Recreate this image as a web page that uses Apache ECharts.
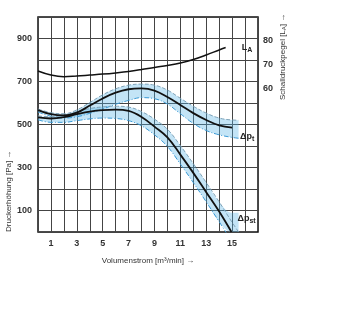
<!DOCTYPE html>
<html><head><meta charset="utf-8">
<script src="https://cdn.jsdelivr.net/npm/echarts@6/dist/echarts.min.js"></script>
<style>html,body{margin:0;padding:0;background:#fff}#c{width:340px;height:331px}</style>
</head><body><div id="c"></div>
<script>
// ---- data ----
const xTickLabels = [1,3,5,7,9,11,13,15];
const leftTickLabels = [100,300,500,700,900];
const rightTickLabels = [60,70,80];

const laX = [0,1,2,3,4,5,6,7,8,9,10,11,12,13,14,14.5];
const laVals = [67.4,65.7,65.0,65.3,65.7,66.1,66.6,67.2,68.0,68.9,69.7,70.7,72.2,74.1,76.2,77.2];

const ptX = [0,1,2,3,4,5,6,7,8,9,10,11,12,13,14,15];
const ptVals = [567,548,542,555,588,621,648,664,668,658,628,591,553,521,496,485];
const ptBandX = [0,1,2,3,4,5,6,7,8,9,10,11,12,13,14,15,15.5];
const ptUpper = [572,555,550,568,602,638,666,683,688,683,660,622,585,553,530,521,520];
const ptLower = [558,538,530,536,552,572,594,612,625,620,595,550,505,472,452,440,436];

const pstX = [0,1,2,3,4,5,6,7,8,9,10,11,12,13,14,14.95];
const pstVals = [533,528,534,548,560,567,569,563,535,490,440,360,275,185,95,0];
const pstBandX = [0,1,2,3,4,5,6,7,8,9,10,11,12,13,14,15,15.5];
const pstUpper = [540,536,543,560,574,582,585,581,560,525,478,402,318,230,140,45,0];
const pstLower = [522,510,510,518,526,530,528,518,494,452,398,316,230,140,48,-45,-90];

// ---- helpers ----
const pairs = (xs, ys) => xs.map((x, i) => [x, ys[i]]);
// [y, x] order so the stacked dimension is the value (y) dimension
const yxPairs = (xs, ys) => xs.map((x, i) => [ys[i], x]);
const BAND = 'rgba(90,180,230,0.36)';
const BLACK = '#111';
const FONT = '"Liberation Sans", Arial, sans-serif';

function bandSeries(name, xs, up, lo) {
  const diff = up.map((u, i) => u - lo[i]);
  return [
    { type: 'line', name: name + '_base', data: yxPairs(xs, lo), encode: { x: 1, y: 0 }, stack: name, smooth: 0.4,
      symbol: 'none', lineStyle: { width: 0, opacity: 0 }, silent: true, z: 1 },
    { type: 'line', name: name + '_fill', data: yxPairs(xs, diff), encode: { x: 1, y: 0 }, stack: name, smooth: 0.4,
      symbol: 'none', lineStyle: { width: 0, opacity: 0 }, areaStyle: { color: BAND, opacity: 1 }, silent: true, z: 1 },
    { type: 'line', name: name + '_up', data: pairs(xs, up), smooth: 0.4, symbol: 'none',
      lineStyle: { color: '#7fa3b8', width: 1, type: [4, 2] }, z: 2 },
    { type: 'line', name: name + '_lo', data: pairs(xs, lo), smooth: 0.4, symbol: 'none',
      lineStyle: { color: '#3a9ad6', width: 1, type: [5, 2, 1, 2] }, z: 2 }
  ];
}

const subRich = {
  m: { fontSize: 9, fontWeight: 'bold', color: '#222', fontFamily: FONT },
  s: { fontSize: 7, fontWeight: 'bold', color: '#222', fontFamily: FONT, padding: [4, 0, 0, 0] }
};

const chart = echarts.init(document.getElementById('c'), null, { renderer: 'canvas' });
chart.setOption({
  animation: false,
  backgroundColor: '#fff',
  grid: { left: 38, top: 17, right: 82, bottom: 99, show: true, borderColor: '#111', borderWidth: 1.5, backgroundColor: 'transparent' },
  xAxis: {
    type: 'value', min: 0, max: 17, interval: 1,
    name: 'Volumenstrom [m³/min] →', nameLocation: 'middle', nameGap: 25,
    nameTextStyle: { fontSize: 8, color: '#333', fontFamily: FONT },
    axisLine: { show: false }, axisTick: { show: false },
    axisLabel: { fontSize: 9, fontWeight: 'bold', color: '#333', fontFamily: FONT, margin: 7,
      formatter: v => xTickLabels.includes(v) ? String(v) : '' },
    splitLine: { show: true, lineStyle: { color: '#444', width: 1 } }
  },
  yAxis: [
    { type: 'value', min: 0, max: 1000, interval: 100,
      axisLine: { show: false }, axisTick: { show: false },
      axisLabel: { fontSize: 9, fontWeight: 'bold', color: '#333', fontFamily: FONT, margin: 6,
        formatter: v => leftTickLabels.includes(v) ? String(v) : '' },
      splitLine: { show: true, lineStyle: { color: '#444', width: 1 } } },
    { type: 'value', min: 0, max: 90, interval: 10, position: 'right',
      axisLine: { show: false }, axisTick: { show: false },
      axisLabel: { fontSize: 9, fontWeight: 'bold', color: '#333', fontFamily: FONT, margin: 5,
        formatter: v => rightTickLabels.includes(v) ? String(v) : '' },
      splitLine: { show: false } }
  ],
  graphic: [
    { type: 'text', x: 9, y: 232, rotation: Math.PI / 2,
      style: { text: 'Druckerhöhung [Pa] →', fill: '#333', font: '8px ' + FONT, align: 'left', verticalAlign: 'middle', textAlign: 'left', textVerticalAlign: 'middle' } },
    { type: 'text', x: 283, y: 100, rotation: Math.PI / 2,
      style: { text: '{n|Schalldruckpegel [L}{s|A}{n|] →}', fill: '#333', align: 'left', verticalAlign: 'middle', textAlign: 'left', textVerticalAlign: 'middle',
        rich: { n: { fontSize: 8, fill: '#333', color: '#333', fontFamily: FONT }, s: { fontSize: 6, fill: '#333', color: '#333', fontFamily: FONT, padding: [3, 0, 0, 0] } } } }
  ],
  series: [
    ...bandSeries('pt', ptBandX, ptUpper, ptLower),
    ...bandSeries('pst', pstBandX, pstUpper, pstLower),
    { type: 'line', name: 'dpt', data: pairs(ptX, ptVals), smooth: 0.4, symbol: 'none', z: 3,
      lineStyle: { color: BLACK, width: 1.8 },
      endLabel: { show: true, formatter: '{m|Δp}{s|t}', rich: subRich, offset: [0, 9] } },
    { type: 'line', name: 'dpst', data: pairs(pstX, pstVals), smooth: 0.4, symbol: 'none', z: 3,
      lineStyle: { color: BLACK, width: 1.8 },
      endLabel: { show: true, formatter: '{m|Δp}{s|st}', rich: subRich, offset: [-2, -13] } },
    { type: 'line', name: 'LA', yAxisIndex: 1, data: pairs(laX, laVals), smooth: 0.4, symbol: 'none', z: 3,
      lineStyle: { color: BLACK, width: 1.5 },
      endLabel: { show: true, formatter: '{m|L}{s|A}', rich: subRich, offset: [8, 0] } }
  ]
});
</script></body></html>
